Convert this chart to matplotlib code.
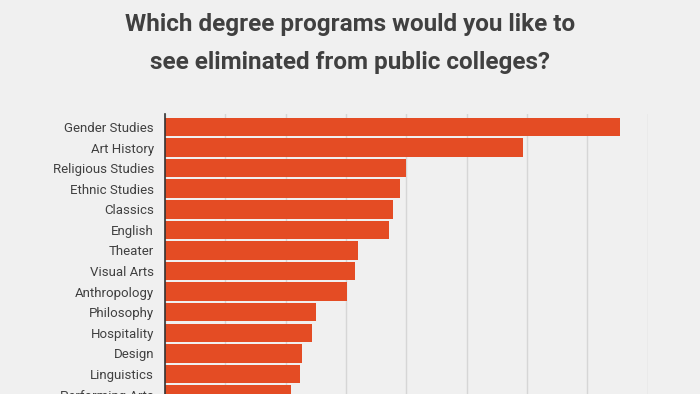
import matplotlib
matplotlib.use("Agg")
import matplotlib.pyplot as plt

# Data (grid step = 10 units)
programs = [
    "Gender Studies", "Art History", "Religious Studies", "Ethnic Studies",
    "Classics", "English", "Theater", "Visual Arts", "Anthropology",
    "Philosophy", "Hospitality", "Design", "Linguistics", "Performing Arts",
]
votes = [75.5, 59.4, 39.9, 38.9, 37.8, 37.2, 32.0, 31.5, 30.2,
         25.0, 24.3, 22.7, 22.4, 20.9]

bg = "#f0f0f0"
bar_color = "#e44c24"
text_color = "#404040"

plt.rcParams["font.family"] = ["Roboto", "DejaVu Sans"]

fig = plt.figure(figsize=(7, 3.94), dpi=100, facecolor=bg)

# axes top at ~114px, left at 165px, right at ~648px; bottom runs off the figure
ax = fig.add_axes([165 / 700, (394 - 114 - 290.8) / 394, 482.6 / 700, 290.8 / 394])
ax.set_facecolor(bg)

ypos = list(range(len(programs)))
ax.barh(ypos, votes, height=0.9, color=bar_color, zorder=3)

ax.set_xlim(0, 80)
ax.set_ylim(13.5, -0.63)
ax.set_xticks(range(0, 81, 10))
ax.set_xticklabels([])
ax.tick_params(axis="x", length=0)
ax.grid(axis="x", color="#d6d6d6", linewidth=1, zorder=0)

ax.set_yticks(ypos)
ax.set_yticklabels(programs, fontsize=9.5, color=text_color)
ax.tick_params(axis="y", length=0, pad=8)

for side in ["top", "right", "bottom"]:
    ax.spines[side].set_visible(False)
ax.spines["left"].set_color("#333333")
ax.spines["left"].set_linewidth(1.2)
ax.spines["left"].set_zorder(4)

fig.text(0.5, 1 - 25 / 394, "Which degree programs would you like to",
         ha="center", va="center", fontsize=17.5, fontweight="bold", color=text_color)
fig.text(0.5, 1 - 62 / 394, "see eliminated from public colleges?",
         ha="center", va="center", fontsize=17.5, fontweight="bold", color=text_color)

fig.savefig("out.png", dpi=100, facecolor=bg)
